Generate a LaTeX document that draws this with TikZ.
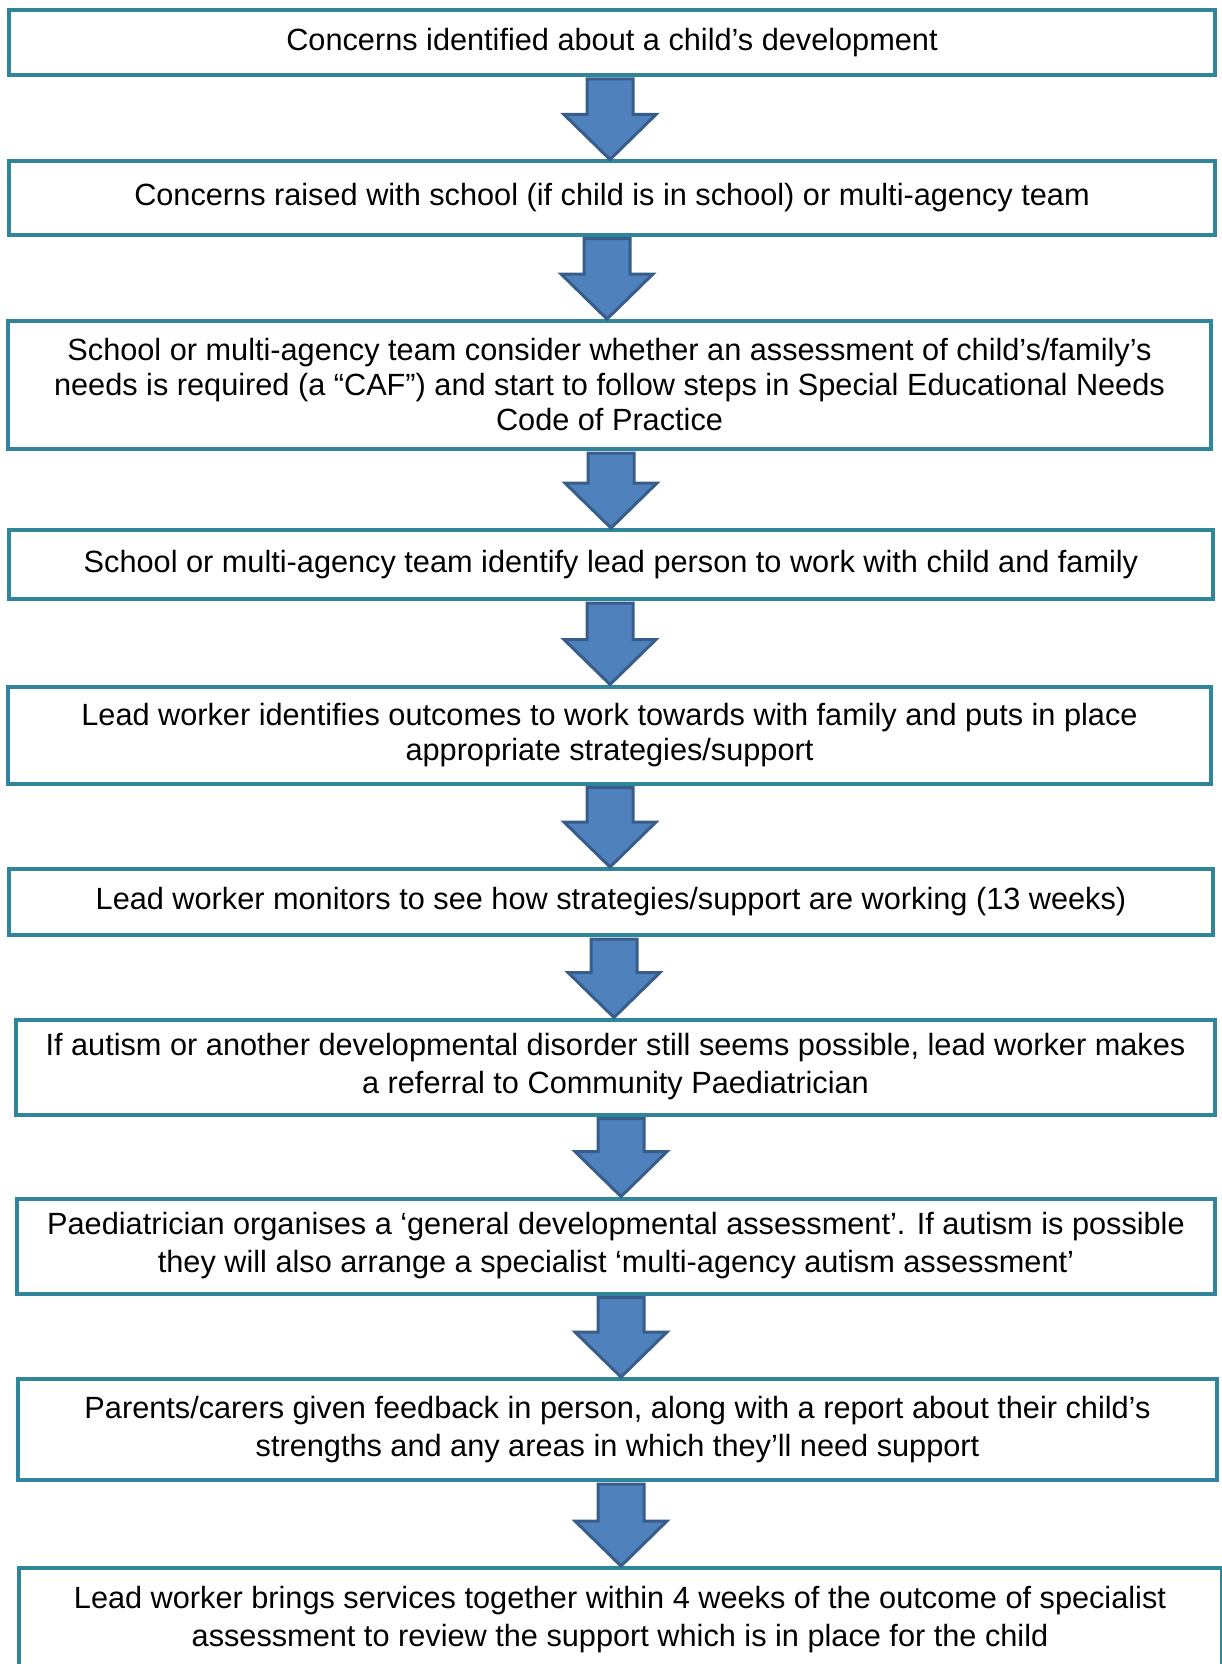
\documentclass[tikz,border=0pt]{standalone}
\usepackage{fontspec}
\setmainfont{Liberation Sans}
\usepackage{tikz}
\usetikzlibrary{calc}

\definecolor{boxteal}{RGB}{49,133,155}
\definecolor{arrowfill}{RGB}{79,129,189}
\definecolor{arrowedge}{RGB}{56,93,138}

\begin{document}
\begin{tikzpicture}[
          x=1pt, y=-1pt,
          stage/.style={rectangle, draw=boxteal, line width=4pt, fill=white, align=center, inner sep=0pt, font=\fontsize{30.7}{35}\selectfont},
          lowstage/.style={stage, font=\fontsize{30.7}{38}\selectfont},
          downarrow/.style={draw=arrowedge, fill=arrowfill, line width=3pt}
        ]
        \useasboundingbox (0,0) rectangle (1222,1664);
        \node[stage, minimum width=1206pt, minimum height=65pt] (s1) at (612,42.5) {Concerns identified about a child’s development};
        \node[stage, minimum width=1206pt, minimum height=73pt] (s2) at (612,198) {Concerns raised with school (if child is in school) or multi-agency team};
        \node[stage, minimum width=1203pt, minimum height=128pt] (s3) at (609.5,385) {School or multi-agency team consider whether an assessment of child’s/family’s\\ needs is required (a “CAF”) and start to follow steps in Special Educational Needs\\ Code of Practice};
        \node[stage, minimum width=1204pt, minimum height=69pt] (s4) at (611,564.5) {School or multi-agency team identify lead person to work with child and family};
        \node[stage, minimum width=1203pt, minimum height=97pt] (s5) at (609.5,735) {Lead worker identifies outcomes to work towards with family and puts in place\\ appropriate strategies/support};
        \node[stage, minimum width=1204pt, minimum height=66pt] (s6) at (611,902) {Lead worker monitors to see how strategies/support are working (13 weeks)};
        \node[lowstage, minimum width=1199pt, minimum height=95pt] (s7) at (615.5,1067) {If autism or another developmental disorder still seems possible, lead worker makes\\ a referral to Community Paediatrician};
        \node[lowstage, minimum width=1198pt, minimum height=95pt] (s8) at (616,1246) {Paediatrician organises a ‘general developmental assessment’. If autism is possible\\ they will also arrange a specialist ‘multi-agency autism assessment’};
        \node[lowstage, minimum width=1199pt, minimum height=101pt] (s9) at (617.5,1429.5) {Parents/carers given feedback in person, along with a report about their child’s\\ strengths and any areas in which they’ll need support};
        \node[lowstage, minimum width=1203pt, minimum height=104pt] (s10) at (620,1620) {Lead worker brings services together within 4 weeks of the outcome of specialist\\ assessment to review the support which is in place for the child};
        % block arrows between the stages
        \foreach \a/\b/\c in {s1/s2/610, s2/s3/607, s3/s4/611, s4/s5/610, s5/s6/610, s6/s7/614, s7/s8/621, s8/s9/621, s9/s10/621}{
          \draw[downarrow] let \p1=(\a.south), \p2=(\b.north) in
            ({(\c-23)*1pt},{\y1-2pt}) -- ({(\c+23)*1pt},{\y1-2pt}) -- ({(\c+23)*1pt},{\y2+45pt})
            -- ({(\c+46)*1pt},{\y2+45pt}) -- ({\c*1pt},\y2) -- ({(\c-46)*1pt},{\y2+45pt})
            -- ({(\c-23)*1pt},{\y2+45pt}) -- cycle;
        }
\end{tikzpicture}
\end{document}
